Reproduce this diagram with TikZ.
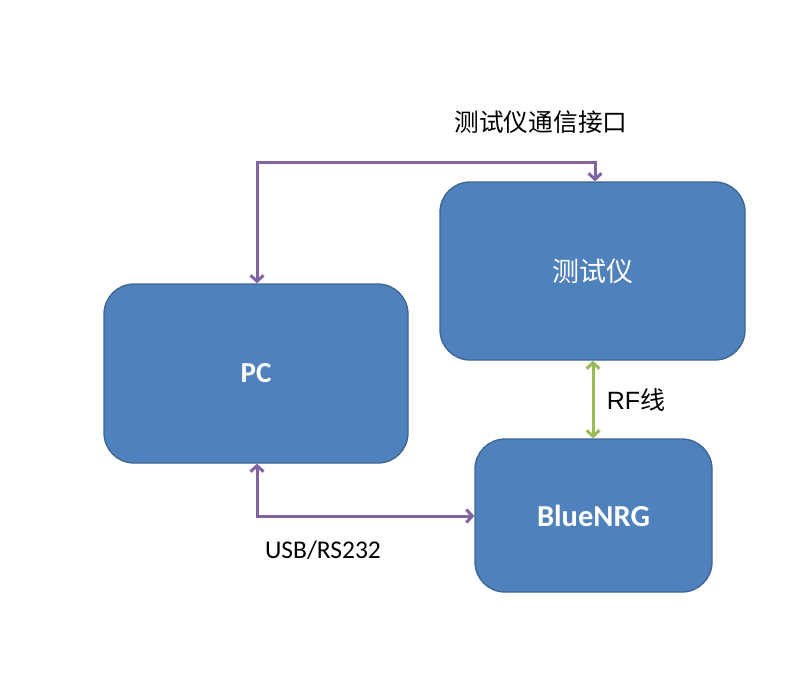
\documentclass[tikz,border=0pt]{standalone}
\usepackage{fontspec}
\setmainfont{Carlito}
\newfontfamily\cjk{Noto Sans CJK SC}
\newfontfamily\arl{Liberation Sans}
\usetikzlibrary{arrows.meta}
\definecolor{boxfill}{HTML}{4F81BD}
\definecolor{boxline}{HTML}{3D6594}
\definecolor{purp}{HTML}{8064A2}
\definecolor{grn}{HTML}{9BBB59}
\tikzset{
  blk/.style={draw=boxline, line width=1.3pt, fill=boxfill, rounded corners=30pt, text=white, inner sep=0pt},
  parr/.style={draw=purp, line width=3pt, {Straight Barb[length=6pt,width=13pt]}-{Straight Barb[length=6pt,width=13pt]}},
  garr/.style={draw=grn, line width=3pt, {Straight Barb[length=6pt,width=13pt]}-{Straight Barb[length=6pt,width=13pt]}},
  lbl/.style={text=black, inner sep=0pt}
}
\begin{document}
\begin{tikzpicture}[x=1pt,y=-1pt]
\useasboundingbox (0,0) rectangle (789,686);
\node[blk, minimum width=304pt, minimum height=179pt] (pc) at (256,373.5) {\fontsize{29}{30}\selectfont\bfseries PC};
\node[blk, minimum width=305pt, minimum height=178pt] (tst) at (592.5,271) {\fontsize{27}{30}\selectfont\cjk 测试仪};
\node[blk, minimum width=237pt, minimum height=153pt] (ble) at (593.5,515.5) {\fontsize{30.5}{32}\selectfont\bfseries BlueNRG};
\coordinate (tl) at (257,162);
\coordinate (tr) at (595,162);
\coordinate (bl) at (257,516);
\draw[parr] (pc.north -| tl) -- (tl) -- (tr) -- (tr |- tst.north);
\draw[parr] (pc.south -| bl) -- (bl) -- (bl -| ble.west);
\draw[garr] (tst.south -| 593,0) -- (ble.north -| 593,0);
\node[lbl] (l1) at (541,122) {\fontsize{24.7}{26}\selectfont\cjk 测试仪通信接口};
\node[lbl] (l2) at (636,400) {\fontsize{25}{26}\selectfont\arl RF{\cjk 线}};
\node[lbl] (l3) at (323,550) {\fontsize{25.5}{26}\selectfont USB/RS232};
\end{tikzpicture}
\end{document}
